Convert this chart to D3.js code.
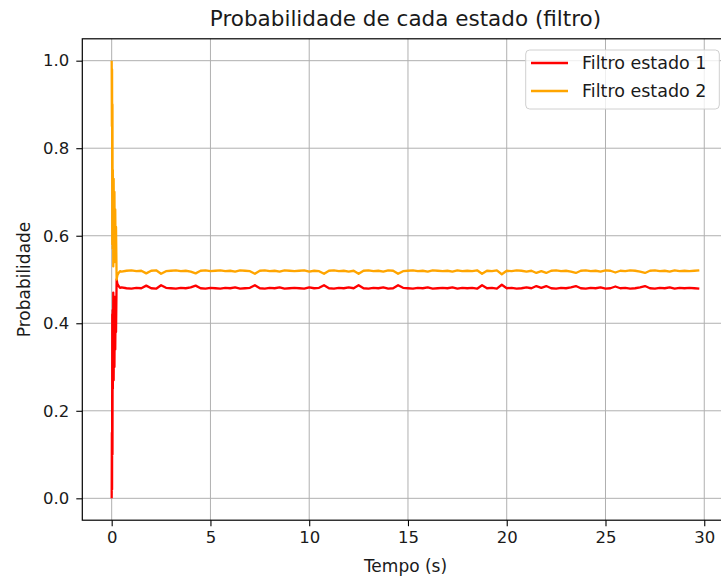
<!DOCTYPE html>
<html>
<head>
<meta charset="utf-8">
<script src="https://cdn.jsdelivr.net/npm/d3@7"></script>
<style>
  body { margin: 0; background: #fff; }
  text { font-family: "DejaVu Sans", sans-serif; fill: #1a1a1a; }
</style>
</head>
<body>
<svg></svg>
<script>
const width = 721;
const height = 578;

// transient part, first half second
const timeTransient = [0, 0.01, 0.02, 0.03, 0.04, 0.05, 0.06, 0.08, 0.10, 0.12, 0.14, 0.16, 0.18, 0.20, 0.22, 0.25, 0.29, 0.35, 0.42];
const estado1Transient = [0.0, 0.15, 0.02, 0.42, 0.10, 0.43, 0.25, 0.47, 0.27, 0.42, 0.30, 0.46, 0.34, 0.44, 0.38, 0.50, 0.49, 0.485, 0.481];
const estado2Transient = [1.0, 0.85, 0.98, 0.58, 0.90, 0.57, 0.75, 0.53, 0.73, 0.58, 0.70, 0.54, 0.66, 0.56, 0.62, 0.50, 0.51, 0.515, 0.519];

// steady part, sampled every 0.25 s from 0.5 s
const steadyStart = 0.5;
const steadyStep = 0.25;
const estado1Steady = [
  0.482,0.480,0.479,0.481,0.480,0.486,0.480,0.479,0.487,0.481,
  0.480,0.479,0.481,0.480,0.482,0.486,0.480,0.479,0.481,0.480,
  0.479,0.481,0.480,0.482,0.479,0.480,0.481,0.487,0.480,0.479,
  0.481,0.480,0.482,0.479,0.480,0.481,0.480,0.479,0.482,0.480,
  0.481,0.487,0.480,0.479,0.481,0.480,0.482,0.480,0.487,0.480,
  0.479,0.481,0.480,0.482,0.479,0.480,0.487,0.481,0.480,0.479,
  0.481,0.480,0.482,0.479,0.480,0.481,0.480,0.482,0.479,0.481,
  0.480,0.481,0.479,0.487,0.480,0.481,0.479,0.488,0.480,0.481,
  0.479,0.480,0.482,0.480,0.485,0.481,0.485,0.480,0.479,0.481,
  0.480,0.482,0.485,0.480,0.479,0.481,0.480,0.482,0.479,0.480,
  0.484,0.480,0.481,0.479,0.480,0.482,0.485,0.480,0.479,0.481,
  0.480,0.482,0.479,0.481,0.480,0.481,0.480,0.479
];
const estado2Steady = [
  0.518,0.520,0.521,0.519,0.520,0.514,0.520,0.521,0.513,0.519,
  0.520,0.521,0.519,0.520,0.518,0.514,0.520,0.521,0.519,0.520,
  0.521,0.519,0.520,0.518,0.521,0.520,0.519,0.513,0.520,0.521,
  0.519,0.520,0.518,0.521,0.520,0.519,0.520,0.521,0.518,0.520,
  0.519,0.513,0.520,0.521,0.519,0.520,0.518,0.520,0.513,0.520,
  0.521,0.519,0.520,0.518,0.521,0.520,0.513,0.519,0.520,0.521,
  0.519,0.520,0.518,0.521,0.520,0.519,0.520,0.518,0.521,0.519,
  0.520,0.519,0.521,0.513,0.520,0.519,0.521,0.512,0.520,0.519,
  0.521,0.520,0.518,0.520,0.515,0.519,0.515,0.520,0.521,0.519,
  0.520,0.518,0.515,0.520,0.521,0.519,0.520,0.518,0.521,0.520,
  0.516,0.520,0.519,0.521,0.520,0.518,0.515,0.520,0.521,0.519,
  0.520,0.518,0.521,0.519,0.520,0.519,0.520,0.521
];

const xTicks = [0, 5, 10, 15, 20, 25, 30];
const yTicks = [0.0, 0.2, 0.4, 0.6, 0.8, 1.0];
const seriesNames = ["Filtro estado 1", "Filtro estado 2"];
const seriesColors = ["red", "orange"];

const steadyTimes = estado1Steady.map((v, i) => steadyStart + i * steadyStep);
const series = [
  timeTransient.map((t, i) => [t, estado1Transient[i]]).concat(steadyTimes.map((t, i) => [t, estado1Steady[i]])),
  timeTransient.map((t, i) => [t, estado2Transient[i]]).concat(steadyTimes.map((t, i) => [t, estado2Steady[i]])),
];

const axL = 82.3, axR = 728.7, axT = 38.8, axB = 520.2;

const tMax = steadyTimes[steadyTimes.length - 1];
const xPad = tMax * 0.05;
const x = d3.scaleLinear().domain([-xPad, tMax + xPad]).range([axL, axR]);
const y = d3.scaleLinear().domain([-0.05, 1.05]).range([axB, axT]);

const svg = d3.select("svg").attr("width", width).attr("height", height);

svg.append("defs").append("clipPath").attr("id", "clip")
  .append("rect").attr("x", axL).attr("y", axT).attr("width", axR - axL).attr("height", axB - axT);

// grid
const grid = svg.append("g").attr("stroke", "#b0b0b0").attr("stroke-width", 1);
grid.selectAll(".gx").data(xTicks).join("line")
  .attr("x1", d => x(d)).attr("x2", d => x(d)).attr("y1", axT).attr("y2", axB);
grid.selectAll(".gy").data(yTicks).join("line")
  .attr("x1", axL).attr("x2", axR).attr("y1", d => y(d)).attr("y2", d => y(d));

// lines
const line = d3.line().x(d => x(d[0])).y(d => y(d[1]));
svg.append("g").attr("clip-path", "url(#clip)")
  .selectAll("path").data(series).join("path")
  .attr("fill", "none")
  .attr("stroke", (d, i) => seriesColors[i])
  .attr("stroke-width", 2.3)
  .attr("stroke-linejoin", "round")
  .attr("d", line);

// axes
const xAxis = svg.append("g").attr("transform", `translate(0,${axB})`)
  .call(d3.axisBottom(x).tickValues(xTicks).tickSize(6).tickPadding(5).tickFormat(d3.format("d")));
const yAxis = svg.append("g").attr("transform", `translate(${axL},0)`)
  .call(d3.axisLeft(y).tickValues(yTicks).tickSize(6).tickPadding(7).tickFormat(d3.format(".1f")));
[xAxis, yAxis].forEach(a => {
  a.select(".domain").remove();
  a.selectAll(".tick line").attr("stroke", "#000").attr("stroke-width", 1.1);
  a.selectAll(".tick text").attr("font-size", 16.5).attr("fill", "#1a1a1a");
});

// frame
svg.append("rect").attr("x", axL).attr("y", axT).attr("width", axR - axL).attr("height", axB - axT)
  .attr("fill", "none").attr("stroke", "#000").attr("stroke-width", 1.2);

// labels
svg.append("text").attr("x", (axL + axR) / 2).attr("y", 26).attr("text-anchor", "middle")
  .attr("font-size", 21.5).text("Probabilidade de cada estado (filtro)");
svg.append("text").attr("x", (axL + axR) / 2).attr("y", 572).attr("text-anchor", "middle")
  .attr("font-size", 17).text("Tempo (s)");
svg.append("text").attr("transform", `translate(30,${(axT + axB) / 2}) rotate(-90)`)
  .attr("text-anchor", "middle").attr("font-size", 17).text("Probabilidade");

// legend
const legend = svg.append("g");
legend.append("rect").attr("x", 525.7).attr("y", 50).attr("width", 193.6).attr("height", 59).attr("rx", 4)
  .attr("fill", "#fff").attr("fill-opacity", 0.8).attr("stroke", "#d0d0d0");
seriesNames.forEach((name, i) => {
  const ly = 63 + i * 28;
  legend.append("line").attr("x1", 531).attr("x2", 568).attr("y1", ly).attr("y2", ly)
    .attr("stroke", seriesColors[i]).attr("stroke-width", 2.3);
  legend.append("text").attr("x", 582).attr("y", ly).attr("dy", "0.35em").attr("font-size", 17.5).text(name);
});
</script>
</body>
</html>
